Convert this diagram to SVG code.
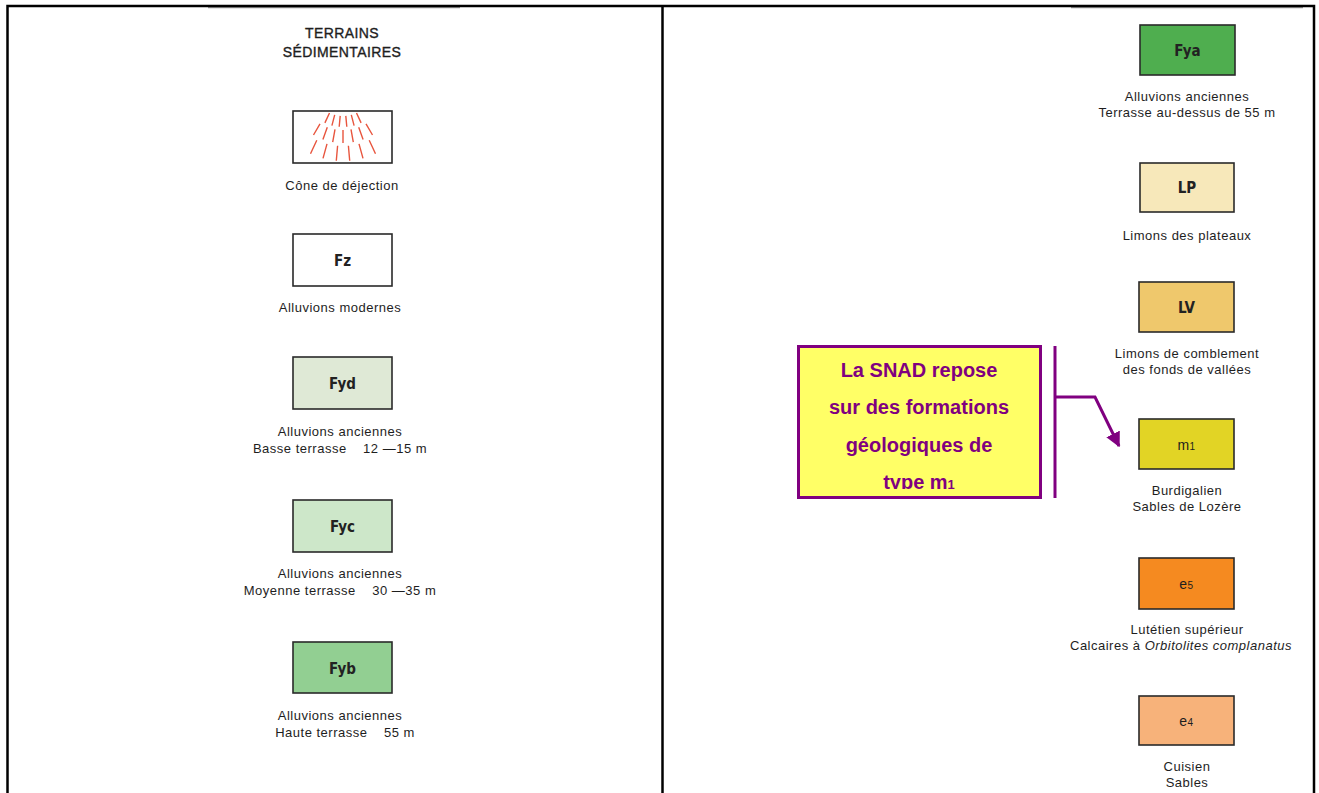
<svg xmlns="http://www.w3.org/2000/svg" width="1319" height="793" viewBox="0 0 1319 793">
<style>
.frame{stroke:#000;stroke-width:2.5;fill:none}
.box{stroke:#2a2a2a;stroke-width:1.6}
.lbl{font-family:"Liberation Sans",Arial,sans-serif;font-size:13px;letter-spacing:0.5px;fill:#1e1e1e;text-anchor:middle}
.code{font-family:"DejaVu Sans Condensed","Liberation Sans",sans-serif;font-weight:bold;font-size:15px;fill:#222;text-anchor:middle}
.title{font-family:"Liberation Sans",Arial,sans-serif;font-size:14px;letter-spacing:0.4px;fill:#1e1e1e;stroke:#1e1e1e;stroke-width:0.35;text-anchor:middle}
.call{font-family:"Liberation Sans",Arial,sans-serif;font-weight:bold;font-size:20px;fill:#800080;text-anchor:middle}
.hatch{stroke:#e8553e;stroke-width:1.4;fill:none}
.conn{stroke:#800080;stroke-width:3;fill:none}
</style>
<defs>
<marker id="arr" viewBox="0 0 10 10" refX="9" refY="5" markerWidth="5" markerHeight="5" orient="auto" markerUnits="strokeWidth">
<path d="M0,0 L10,5 L0,10 z" fill="#800080"/>
</marker>
<clipPath id="callclip"><rect x="797" y="345" width="244" height="144"/></clipPath>
</defs>
<rect width="1319" height="793" fill="#fff"/>
<g id="frame">
<line x1="208" y1="7.5" x2="460" y2="7.5" stroke="#999" stroke-width="1.5"/>
<line x1="1071" y1="7.5" x2="1303" y2="7.5" stroke="#999" stroke-width="1.5"/>
<polyline class="frame" points="7.5,793 7.5,6 1314,6 1314,793"/>
<line class="frame" x1="662.5" y1="6" x2="662.5" y2="793"/>
</g>
<g id="title">
<text class="title" x="342" y="38">TERRAINS</text>
<text class="title" x="342" y="57">SÉDIMENTAIRES</text>
</g>
<g id="cone">
<rect class="box" x="293" y="111" width="99" height="52" fill="#fff"/>
<path class="hatch" d="M345.8,115.9L346.8,126.8M351.3,114.9L354.1,125.6M356.5,113L361.1,122.9M340.2,115.9L339.2,126.8M334.7,114.9L331.9,125.6M329.5,113L324.9,122.9M343,130L343,143M351,129.3L353.3,142.1M358.7,127.2L363.1,139.4M366,123.8L372.5,135M335,129.3L332.7,142.1M327.3,127.2L322.9,139.4M320,123.8L313.5,135M348.4,145.8L349.7,160.7M359,143.9L363,158.4M369.2,140.2L375.5,153.8M337.6,145.8L336.3,160.7M327,143.9L323,158.4M316.8,140.2L310.5,153.8"/>
<text class="lbl" x="342" y="190">Cône de déjection</text>
</g>
<g id="Fz">
<rect class="box" x="293" y="234" width="99" height="52" fill="#fff"/>
<text class="code" x="342.5" y="266">Fz</text>
<text class="lbl" x="340" y="312">Alluvions modernes</text>
</g>
<g id="Fyd">
<rect class="box" x="293" y="357" width="99" height="52" fill="#dfe9d6"/>
<text class="code" x="342.5" y="389">Fyd</text>
<text class="lbl" x="340" y="436">Alluvions anciennes</text>
<text class="lbl" x="340" y="453" xml:space="preserve">Basse terrasse    12 —15 m</text>
</g>
<g id="Fyc">
<rect class="box" x="293" y="500" width="99" height="52" fill="#cde7c9"/>
<text class="code" x="342.5" y="532">Fyc</text>
<text class="lbl" x="340" y="578">Alluvions anciennes</text>
<text class="lbl" x="340" y="595" xml:space="preserve">Moyenne terrasse    30 —35 m</text>
</g>
<g id="Fyb">
<rect class="box" x="293" y="642" width="99" height="51" fill="#92cf92"/>
<text class="code" x="342.5" y="674">Fyb</text>
<text class="lbl" x="340" y="720">Alluvions anciennes</text>
<text class="lbl" x="345" y="737" xml:space="preserve">Haute terrasse    55 m</text>
</g>
<g id="Fya">
<rect class="box" x="1140" y="25" width="95" height="50" fill="#4fae4f"/>
<text class="code" x="1187.5" y="56">Fya</text>
<text class="lbl" x="1187" y="101">Alluvions anciennes</text>
<text class="lbl" x="1187" y="117">Terrasse au-dessus de 55 m</text>
</g>
<g id="LP">
<rect class="box" x="1140" y="163" width="94" height="49" fill="#f7e8ba"/>
<text class="code" x="1187" y="193">LP</text>
<text class="lbl" x="1187" y="240">Limons des plateaux</text>
</g>
<g id="LV">
<rect class="box" x="1139" y="282" width="95" height="50" fill="#efc86c"/>
<text class="code" x="1186.5" y="313">LV</text>
<text class="lbl" x="1187" y="358">Limons de comblement</text>
<text class="lbl" x="1187" y="374">des fonds de vallées</text>
</g>
<g id="m1">
<rect class="box" x="1139" y="419" width="95" height="50" fill="#e2d425"/>
<text class="lbl" x="1186.5" y="450" style="font-size:14px">m<tspan style="font-size:10px">1</tspan></text>
<text class="lbl" x="1187" y="495">Burdigalien</text>
<text class="lbl" x="1187" y="511">Sables de Lozère</text>
</g>
<g id="e5">
<rect class="box" x="1139" y="558" width="95" height="51" fill="#f58a20"/>
<text class="lbl" x="1186.5" y="589" style="font-size:14px">e<tspan style="font-size:10px">5</tspan></text>
<text class="lbl" x="1187" y="634">Lutétien supérieur</text>
<text class="lbl" x="1181" y="650">Calcaires à <tspan font-style="italic">Orbitolites complanatus</tspan></text>
</g>
<g id="e4">
<rect class="box" x="1139" y="696" width="95" height="49" fill="#f7b27a"/>
<text class="lbl" x="1186.5" y="726" style="font-size:14px">e<tspan style="font-size:10px">4</tspan></text>
<text class="lbl" x="1187" y="771">Cuisien</text>
<text class="lbl" x="1187" y="787">Sables</text>
</g>
<g id="callout">
<rect x="798.5" y="346.5" width="242" height="151" fill="#ffff66" stroke="#800080" stroke-width="3"/>
<g clip-path="url(#callclip)">
<text class="call" x="919" y="377">La SNAD repose</text>
<text class="call" x="919" y="414">sur des formations</text>
<text class="call" x="919" y="452">géologiques de</text>
<text class="call" x="919" y="489">type m<tspan style="font-size:13px">1</tspan></text>
</g>
</g>
<g id="connectors">
<line class="conn" x1="1055" y1="346" x2="1055" y2="498"/>
<polyline class="conn" points="1055,397 1095,397 1119,446" marker-end="url(#arr)"/>
</g>
</svg>
